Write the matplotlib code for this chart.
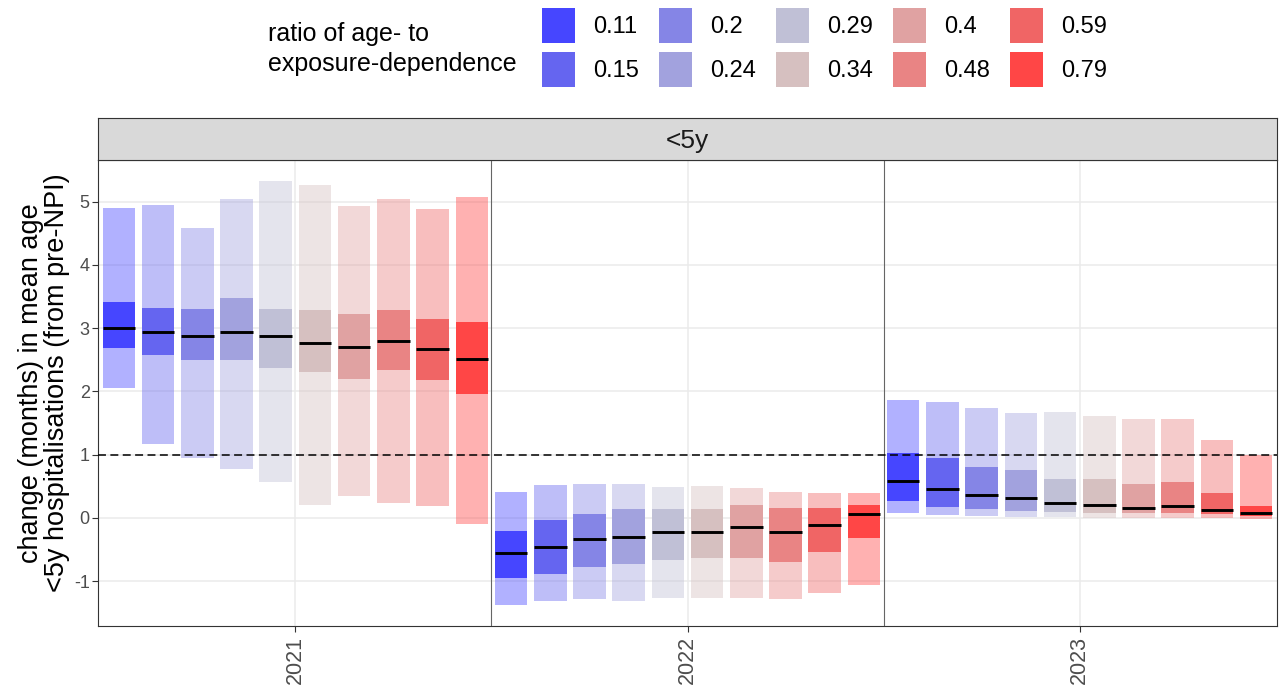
import numpy as np
import matplotlib
matplotlib.use('Agg')
import matplotlib.pyplot as plt
from matplotlib.patches import Patch

plt.rcParams['font.family'] = ['Liberation Sans', 'DejaVu Sans']

YEARS = ['2021', '2022', '2023']
RATIOS = ['0.11', '0.15', '0.2', '0.24', '0.29', '0.34', '0.4', '0.48', '0.59', '0.79']
COLOURS = ['#4646FF', '#6565F0', '#8585E6', '#A2A2DE', '#C0C0D6',
           '#D6C0C0', '#E0A2A2', '#E98484', '#F06565', '#FF4646']

# 95% interval, 50% interval and median, one list per year
outer_hi = [
  [4.90, 4.95, 4.59, 5.05, 5.33, 5.27, 4.93, 5.04, 4.88, 5.07],
  [0.41, 0.52, 0.53, 0.54, 0.49, 0.50, 0.47, 0.41, 0.39, 0.39],
  [1.87, 1.83, 1.74, 1.66, 1.68, 1.61, 1.56, 1.56, 1.23, 0.99],
]
inner_hi = [
  [3.42, 3.32, 3.30, 3.47, 3.31, 3.29, 3.22, 3.29, 3.14, 3.09],
  [-0.20, -0.03, 0.06, 0.14, 0.14, 0.14, 0.20, 0.15, 0.16, 0.20],
  [1.02, 0.94, 0.81, 0.75, 0.62, 0.62, 0.53, 0.57, 0.40, 0.18],
]
median = [
  [3.00, 2.94, 2.88, 2.94, 2.87, 2.77, 2.70, 2.80, 2.67, 2.51],
  [-0.56, -0.46, -0.34, -0.30, -0.23, -0.22, -0.14, -0.23, -0.12, 0.06],
  [0.59, 0.46, 0.36, 0.31, 0.24, 0.20, 0.16, 0.18, 0.13, 0.08],
]
inner_lo = [
  [2.68, 2.57, 2.50, 2.49, 2.37, 2.30, 2.20, 2.34, 2.18, 1.96],
  [-0.95, -0.88, -0.78, -0.73, -0.67, -0.64, -0.63, -0.69, -0.54, -0.32],
  [0.27, 0.17, 0.14, 0.11, 0.10, 0.08, 0.08, 0.07, 0.06, 0.03],
]
outer_lo = [
  [2.06, 1.17, 0.94, 0.77, 0.56, 0.20, 0.34, 0.24, 0.18, -0.09],
  [-1.37, -1.32, -1.28, -1.31, -1.27, -1.27, -1.26, -1.28, -1.19, -1.06],
  [0.07, 0.04, 0.03, 0.02, 0.02, 0.00, 0.00, 0.00, 0.00, -0.01],
]

W, H = 1279, 686
fig = plt.figure(figsize=(W / 100, H / 100), dpi=100)

def px_box(left, top, right, bottom):
  return [left / W, 1 - bottom / H, (right - left) / W, (bottom - top) / H]

ax = fig.add_axes(px_box(98, 160, 1277, 626))
strip = fig.add_axes(px_box(98, 118, 1277, 160))

n = len(RATIOS)
slot = 1.0 / n
bar_w = 0.083
centres = np.arange(len(YEARS))

ax.set_axisbelow(True)
ax.grid(True, color='#EBEBEB', linewidth=1.1)

for i, col in enumerate(COLOURS):
  x = centres - 0.5 + slot * (i + 0.5)
  lo = np.array([outer_lo[k][i] for k in range(len(YEARS))])
  hi = np.array([outer_hi[k][i] for k in range(len(YEARS))])
  ilo = np.array([inner_lo[k][i] for k in range(len(YEARS))])
  ihi = np.array([inner_hi[k][i] for k in range(len(YEARS))])
  med = np.array([median[k][i] for k in range(len(YEARS))])
  ax.bar(x, hi - lo, bottom=lo, width=bar_w, color=col, alpha=0.42, linewidth=0, zorder=2)
  ax.bar(x, ihi - ilo, bottom=ilo, width=bar_w, color=col, linewidth=0, zorder=3)
  ax.hlines(med, x - bar_w / 2, x + bar_w / 2, color='black', linewidth=2.1, zorder=4)

# separators between years and the reference line
for xv in centres[:-1] + 0.5:
  ax.axvline(xv, color='#666666', linewidth=0.8, zorder=5)
ax.axhline(1, color='black', linewidth=1.1, dashes=(5.2, 2.9), zorder=5)

ax.set_xlim(-0.503, len(YEARS) - 1 + 0.503)
ax.set_ylim(-1.71, 5.66)
ax.set_yticks(np.arange(-1, 6))
ax.set_yticklabels([str(v) for v in range(-1, 6)])
ax.set_xticks(centres)
ax.set_xticklabels(YEARS, rotation=90)
ax.tick_params(axis='y', labelsize=13, labelcolor='#4D4D4D', color='#333333', length=4, width=0.8, pad=2)
ax.tick_params(axis='x', labelsize=15.5, labelcolor='#4D4D4D', color='#333333', length=4, width=0.8, pad=3)
for s in ax.spines.values():
  s.set_color('#333333')
  s.set_linewidth(0.8)

# facet strip
strip.set_facecolor('#D9D9D9')
strip.set_xticks([])
strip.set_yticks([])
for s in strip.spines.values():
  s.set_color('#333333')
  s.set_linewidth(0.8)
strip.text(0.5, 0.45, '<5y', ha='center', va='center', fontsize=19, color='#1A1A1A',
           transform=strip.transAxes)

fig.text(44 / W, 1 - 383 / H,
         'change (months) in mean age\n<5y hospitalisations (from pre-NPI)',
         rotation=90, ha='center', va='center', fontsize=19.5, linespacing=1.0)

# legend across the top, title to the left
handles = [Patch(facecolor=c, edgecolor='none') for c in COLOURS]
fig.legend(handles, RATIOS, ncol=5, loc='upper left',
           bbox_to_anchor=(542 / W, 1 - 8 / H), frameon=False, fontsize=17,
           handlelength=1.4, handleheight=1.9, labelspacing=0.38,
           handletextpad=0.76, columnspacing=0.85, borderpad=0, borderaxespad=0)
fig.text(268 / W, 1 - 49 / H, 'ratio of age- to\nexposure-dependence',
         ha='left', va='center', fontsize=18, linespacing=1.3)

plt.savefig('out.png', dpi=100)
